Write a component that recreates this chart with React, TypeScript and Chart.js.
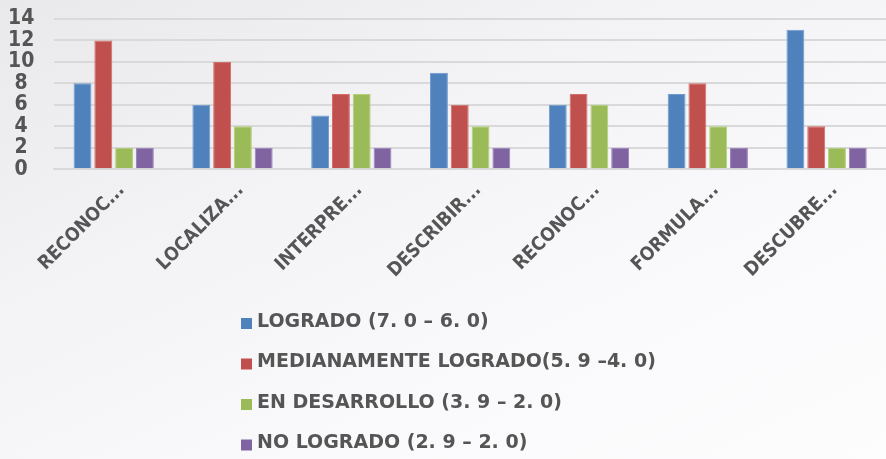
import React, { useEffect, useRef } from "react";
import { Chart, registerables } from "chart.js";

Chart.register(...registerables);

const categories = ["RECONOC...", "LOCALIZA...", "INTERPRE...", "DESCRIBIR...", "RECONOC...", "FORMULA...", "DESCUBRE..."];
const logrado = [8, 6, 5, 9, 6, 7, 13];
const medianamente = [12, 10, 7, 6, 7, 8, 4];
const enDesarrollo = [2, 4, 7, 4, 6, 4, 2];
const noLogrado = [2, 2, 2, 2, 2, 2, 2];
const seriesLabels = [
  "LOGRADO (7. 0 – 6. 0)",
  "MEDIANAMENTE LOGRADO(5. 9 –4. 0)",
  "EN DESARROLLO (3. 9 – 2. 0)",
  "NO LOGRADO (2. 9 – 2. 0)",
];
const yTicks = [0, 2, 4, 6, 8, 10, 12, 14];

const COLORS = ["#4f81bd", "#c0504d", "#9bbb59", "#8064a2"];
const BORDERS = ["#6f9bd0", "#d46e6b", "#b3d07a", "#9a80bb"];
const FONT = "'DejaVu Sans', sans-serif";
const COND = "'DejaVu Sans Condensed', 'DejaVu Sans', sans-serif";
const TEXT = "#555555";

const legendPlugin = {
  id: "vertLegend",
  afterDraw(chart: any) {
    const ctx = chart.ctx;
    const x0 = 241;
    const y0 = 322;
    const step = 40.5;
    ctx.save();
    ctx.font = `bold 19px ${FONT}`;
    ctx.textBaseline = "middle";
    ctx.textAlign = "left";
    chart.data.datasets.forEach((ds: any, i: number) => {
      const y = y0 + i * step;
      ctx.fillStyle = ds.backgroundColor;
      ctx.fillRect(x0, y - 4, 11, 11);
      ctx.fillStyle = TEXT;
      ctx.fillText(ds.label, x0 + 16, y);
    });
    ctx.restore();
  },
};

export default function App() {
  const ref = useRef<HTMLCanvasElement>(null);
  useEffect(() => {
    if (!ref.current) return;
    const series = [logrado, medianamente, enDesarrollo, noLogrado];
    const chart = new Chart(ref.current, {
      type: "bar",
      data: {
        labels: categories,
        datasets: series.map((d, i) => ({
          label: seriesLabels[i],
          data: d,
          backgroundColor: COLORS[i],
          borderColor: BORDERS[i],
          borderWidth: 1,
          categoryPercentage: 0.7,
          barPercentage: 0.86,
        })),
      },
      options: {
        animation: false,
        responsive: false,
        maintainAspectRatio: false,
        layout: { padding: { left: 0, right: 0, top: 0, bottom: 175 } },
        plugins: {
          legend: { display: false },
          tooltip: { enabled: false },
        },
        scales: {
          x: {
            grid: { display: false },
            border: { color: "#d9d9d9", width: 2 },
            ticks: {
              color: TEXT,
              font: { family: COND, size: 19, weight: "bold" },
              minRotation: 45,
              maxRotation: 45,
              labelOffset: 8,
              padding: 2,
            },
          },
          y: {
            min: 0,
            max: 14,
            afterBuildTicks: (axis: any) => {
              axis.ticks = yTicks.map((v) => ({ value: v }));
            },
            grid: {
              color: "#d9d9d9",
              lineWidth: 2,
              drawTicks: true,
              tickLength: 12,
              tickColor: "rgba(0,0,0,0)",
            },
            border: { display: false },
            ticks: {
              autoSkip: false,
              crossAlign: "center",
              color: TEXT,
              font: { family: COND, size: 21, weight: "bold", lineHeight: 1.05 },
              padding: 8,
            },
          },
        },
      },
      plugins: [legendPlugin],
    });
    return () => chart.destroy();
  }, []);
  return (
    <div
      style={{
        position: "fixed",
        left: 0,
        top: 0,
        width: 886,
        height: 459,
        background: "linear-gradient(155deg, #e9e9eb 0%, #f3f3f5 35%, #f9f9fb 65%, #fdfdfe 100%)",
      }}
    >
      <canvas ref={ref} width={886} height={459} style={{ display: "block" }} />
    </div>
  );
}
